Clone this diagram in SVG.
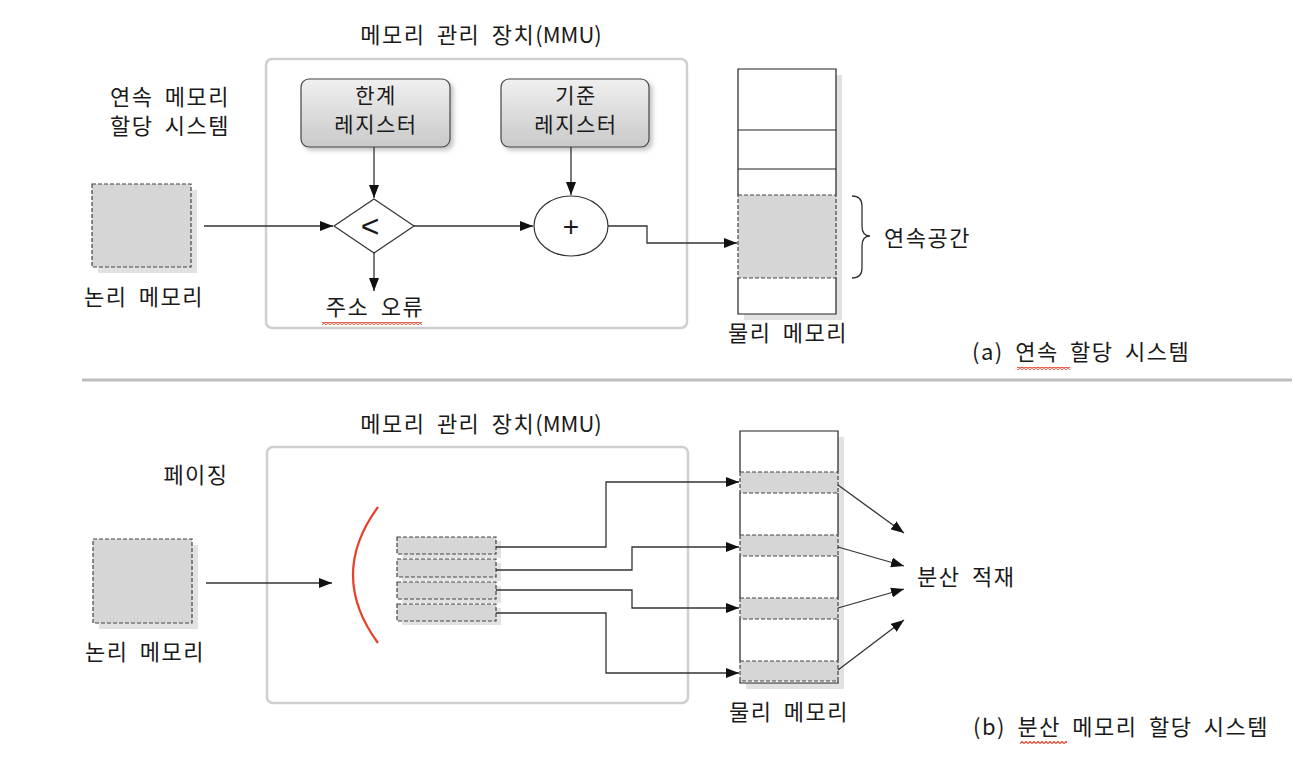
<svg xmlns="http://www.w3.org/2000/svg" width="1312" height="766" viewBox="0 0 1312 766">
<style>
text{font-family:"Noto Sans CJK KR","Noto Sans",sans-serif;font-size:22px;fill:#1a1a1a;letter-spacing:1.5px;word-spacing:5px}
.mid{text-anchor:middle}
.rt{font-size:21px}
.lat{letter-spacing:0}
.sym{font-family:"Liberation Sans",Arial,sans-serif;letter-spacing:0}
.lt{font-size:32px}
.pl{font-size:28px}
.mmu{fill:none;stroke:#cfcfcf;stroke-width:2.5}
.reg{fill:url(#regg);stroke:#444;stroke-width:1.2}
.ln{fill:none;stroke:#333;stroke-width:1.3}
.arr{fill:none;stroke:#333;stroke-width:1.3;marker-end:url(#ah)}
.blk{fill:#d6d6d6;stroke:#444;stroke-width:1.2;stroke-dasharray:4 2}
.shd{fill:#e2e2e2}
.mem{fill:none;stroke:#222;stroke-width:1.2}
.band{fill:#d6d6d6}
.dash{stroke:#444;stroke-width:1.2;stroke-dasharray:4 2;fill:none}
.sq{fill:url(#sqp)}
</style>
<defs>
<linearGradient id="regg" x1="0" y1="0" x2="0" y2="1">
<stop offset="0" stop-color="#f0f0f0"/>
<stop offset="1" stop-color="#c9c9c9"/>
</linearGradient>
<filter id="ds" x="-10%" y="-10%" width="130%" height="140%">
<feDropShadow dx="3" dy="3" stdDeviation="2" flood-color="#888" flood-opacity="0.5"/>
</filter>
<marker id="ah" markerWidth="13" markerHeight="10" refX="13" refY="5" orient="auto" markerUnits="userSpaceOnUse">
<path d="M0,0 L13,5 L0,10 Z" fill="#111"/>
</marker>
<pattern id="sqp" width="4" height="3" patternUnits="userSpaceOnUse">
<path d="M0,2.5 L2,0.5 L4,2.5" fill="none" stroke="#e8402a" stroke-width="1.2"/>
</pattern>
</defs>

<!-- separator -->
<line x1="82" y1="380" x2="1292" y2="380" stroke="#bdbdbd" stroke-width="3"/>

<!-- ============ (a) ============ -->
<g id="mmu-a">
<rect class="mmu" x="266" y="59" width="421" height="269" rx="6"/>
<text class="mid" x="481" y="43">메모리 관리 장치<tspan class="lat">(MMU)</tspan></text>
</g>
<g id="title-a-left">
<text class="mid" x="170" y="105">연속 메모리</text>
<text class="mid" x="170" y="134">할당 시스템</text>
</g>
<g id="logical-a">
<rect class="shd" x="98" y="190" width="99" height="83"/>
<rect class="blk" x="92" y="184" width="99" height="83"/>
<text class="mid" x="144" y="305">논리 메모리</text>
</g>
<g id="limit-reg">
<rect class="reg" x="301" y="79" width="149" height="68" rx="8" filter="url(#ds)"/>
<text class="mid rt" x="376" y="103">한계</text>
<text class="mid rt" x="376" y="132">레지스터</text>
</g>
<g id="base-reg">
<rect class="reg" x="501" y="79" width="148" height="68" rx="8" filter="url(#ds)"/>
<text class="mid rt" x="576" y="103">기준</text>
<text class="mid rt" x="576" y="132">레지스터</text>
</g>
<g id="compare">
<path d="M374,199 L414,226 L374,253 L334,226 Z" fill="#fff" stroke="#333" stroke-width="1.2"/>
<text class="mid sym lt" x="370" y="237">&lt;</text>
</g>
<g id="adder">
<ellipse cx="571" cy="226" rx="37" ry="30" fill="#fff" stroke="#333" stroke-width="1.2"/>
<text class="mid sym pl" x="571" y="236">+</text>
</g>
<g id="addr-error">
<text class="mid" x="375" y="315">주소 오류</text>
<rect class="sq" x="322" y="322" width="100" height="3"/>
</g>
<g id="phys-a">
<rect class="shd" x="836" y="75" width="6" height="245"/>
<rect class="shd" x="744" y="314" width="98" height="6"/>
<rect x="738" y="69" width="98" height="245" fill="#fff"/>
<rect class="band" x="738" y="195" width="98" height="83"/>
<path class="mem" d="M738,195 V69 H836 V195 M738,278 V314 H836 V278 M738,130 H836 M738,169 H836"/>
<rect class="dash" x="738" y="195" width="98" height="83"/>
<text class="mid" x="788" y="341">물리 메모리</text>
</g>
<g id="brace-a">
<path class="ln" d="M852,196 Q862,196 862,206 V226 Q862,236 870,236 Q862,236 862,246 V268 Q862,278 852,278"/>
<text x="884" y="246">연속공간</text>
</g>
<g id="caption-a">
<text x="972" y="360">(a) 연속 할당 시스템</text>
<rect class="sq" x="1017" y="367" width="53" height="3"/>
</g>

<g id="connectors-a">
<line class="arr" x1="204" y1="226" x2="333" y2="226"/>
<line class="arr" x1="374" y1="147" x2="374" y2="198"/>
<line class="arr" x1="374" y1="253" x2="374" y2="291"/>
<line class="arr" x1="414" y1="226" x2="533" y2="226"/>
<line class="arr" x1="571" y1="147" x2="571" y2="195"/>
<path class="arr" d="M608,226 H647 V243 H737"/>
</g>

<!-- ============ (b) ============ -->
<g id="mmu-b">
<rect class="mmu" x="267" y="447" width="421" height="256" rx="6"/>
<text class="mid" x="481" y="432">메모리 관리 장치<tspan class="lat">(MMU)</tspan></text>
</g>
<g id="title-b-left">
<text class="mid" x="196" y="483">페이징</text>
</g>
<g id="logical-b">
<rect class="shd" x="99" y="545" width="99" height="84"/>
<rect class="blk" x="93" y="539" width="99" height="84"/>
<text class="mid" x="145" y="660">논리 메모리</text>
</g>
<g id="page-table">
<path d="M378,507 Q328,575 378,643" fill="none" stroke="#e8402a" stroke-width="2.2"/>
<rect class="shd" x="402" y="541" width="99" height="17"/>
<rect class="shd" x="402" y="563" width="99" height="18"/>
<rect class="shd" x="402" y="586" width="99" height="17"/>
<rect class="shd" x="402" y="608" width="99" height="17"/>
<rect class="blk" x="397" y="537" width="99" height="17"/>
<rect class="blk" x="397" y="559" width="99" height="18"/>
<rect class="blk" x="397" y="582" width="99" height="17"/>
<rect class="blk" x="397" y="604" width="99" height="17"/>
</g>
<g id="phys-b">
<rect class="shd" x="838" y="437" width="6" height="252"/>
<rect class="shd" x="746" y="683" width="98" height="6"/>
<rect x="740" y="431" width="98" height="252" fill="#fff"/>
<rect class="band" x="740" y="472" width="98" height="21"/>
<rect class="band" x="740" y="535" width="98" height="21"/>
<rect class="band" x="740" y="598" width="98" height="21"/>
<rect class="band" x="740" y="661" width="98" height="20"/>
<path class="mem" d="M740,472 V431 H838 V472 M740,493 V535 M838,493 V535 M740,556 V598 M838,556 V598 M740,619 V661 M838,619 V661 M740,681 V683 H838 V681"/>
<rect class="dash" x="740" y="472" width="98" height="21"/>
<rect class="dash" x="740" y="535" width="98" height="21"/>
<rect class="dash" x="740" y="598" width="98" height="21"/>
<rect class="dash" x="740" y="661" width="98" height="20"/>
<text class="mid" x="789" y="720">물리 메모리</text>
</g>
<g id="scatter-label">
<text x="917" y="585">분산 적재</text>
</g>
<g id="caption-b">
<text x="973" y="735">(b) 분산 메모리 할당 시스템</text>
<rect class="sq" x="1020" y="741" width="47" height="3"/>
</g>

<g id="connectors-b">
<line class="arr" x1="206" y1="583" x2="332" y2="583"/>
<path class="arr" d="M496,547 H606 V482 H739"/>
<path class="arr" d="M496,570 H632 V547 H739"/>
<path class="arr" d="M496,590 H632 V608 H739"/>
<path class="arr" d="M496,613 H606 V673 H739"/>
<line class="arr" x1="838" y1="485" x2="904" y2="533"/>
<line class="arr" x1="838" y1="547" x2="904" y2="566"/>
<line class="arr" x1="838" y1="608" x2="904" y2="589"/>
<line class="arr" x1="838" y1="670" x2="904" y2="620"/>
</g>
</svg>
